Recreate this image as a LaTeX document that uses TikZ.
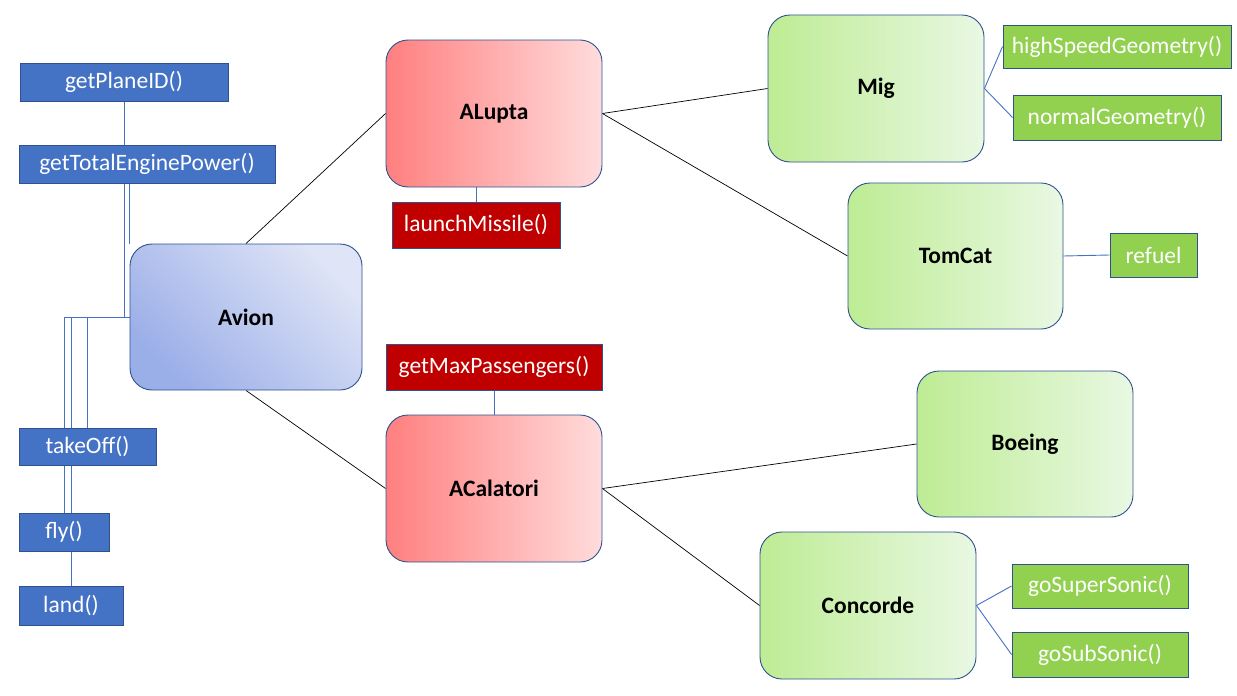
\documentclass[tikz,border=0pt]{standalone}
\usepackage{fontspec}
\setmainfont{Carlito}
\usetikzlibrary{backgrounds}
\definecolor{bluebox}{HTML}{4472C4}
\definecolor{edge}{HTML}{2F528F}
\definecolor{redbox}{HTML}{C00000}
\definecolor{greenbox}{HTML}{92D050}
\definecolor{redA}{HTML}{FF7F7F}
\definecolor{redB}{HTML}{FFDCDC}
\definecolor{greenA}{HTML}{BEEC94}
\definecolor{greenB}{HTML}{E9F8E3}
\definecolor{blueA}{HTML}{9AAEE8}
\definecolor{blueB}{HTML}{DFE4F6}
\definecolor{linkblue}{HTML}{4472C4}
\tikzset{
  txt/.style={font=\fontsize{23.5}{28}\selectfont},
  method/.style={txt, draw=edge, line width=0.9pt, text=white, inner sep=0pt},
  mblue/.style={method, fill=bluebox},
  mred/.style={method, fill=redbox},
  mgreen/.style={method, fill=greenbox},
  cls/.style={font=\fontsize{23.5}{28}\selectfont\bfseries, draw=edge, line width=0.9pt, rounded corners=22pt, minimum width=216pt, minimum height=147pt, inner sep=0pt},
  redcls/.style={cls, left color=redA, right color=redB},
  greencls/.style={cls, left color=greenA, right color=greenB},
  link/.style={line width=0.7pt, black},
  mlink/.style={line width=0.9pt, linkblue},
}
\begin{document}
\begin{tikzpicture}[x=1pt,y=-1pt]
\useasboundingbox (0,0) rectangle (1237,696);
% left methods
\node[mblue, minimum width=208pt, minimum height=38pt] (planeid) at (124,82) {getPlaneID()};
\node[mblue, minimum width=256pt, minimum height=38pt] (tep) at (147,164) {getTotalEnginePower()};
\node[mblue, minimum width=137pt, minimum height=37pt] (takeoff) at (87.5,446.5) {takeOff()};
\node[mblue, minimum width=90pt, minimum height=38pt] (fly) at (64,532) {fly()};
\node[mblue, minimum width=104pt, minimum height=39pt] (land) at (71,605.5) {land()};
% Avion
\node[cls, minimum width=232pt, minimum height=146pt, top color=blueB, bottom color=blueA, shading angle=-45] (avion) at (246,317) {Avion};
% red classes
\node[redcls] (alupta) at (494,113.5) {ALupta};
\node[mred, minimum width=168pt, minimum height=46pt] (launch) at (476,225) {launchMissile()};
\node[mred, minimum width=216pt, minimum height=46pt] (maxp) at (494,367) {getMaxPassengers()};
\node[redcls] (acalatori) at (494,488.5) {ACalatori};
% green classes
\node[greencls] (mig) at (876,88.5) {Mig};
\node[mgreen, minimum width=228pt, minimum height=43pt] (hsg) at (1117,46.5) {highSpeedGeometry()};
\node[mgreen, minimum width=208pt, minimum height=45pt] (ng) at (1117,117.5) {normalGeometry()};
\node[greencls, minimum width=215pt, minimum height=146pt] (tomcat) at (955.5,256) {TomCat};
\node[mgreen, minimum width=87pt, minimum height=44pt] (refuel) at (1153.5,255) {refuel};
\node[greencls, minimum height=146pt] (boeing) at (1025,444) {Boeing};
\node[greencls] (concorde) at (868,605.5) {Concorde};
\node[mgreen, minimum width=176pt, minimum height=44pt] (gss) at (1100,586) {goSuperSonic()};
\node[mgreen, minimum width=176pt, minimum height=45pt] (gsub) at (1100,654.5) {goSubSonic()};
\begin{scope}[on background layer]
  % hierarchy
  \draw[link] (avion.north) -- (alupta.west);
  \draw[link] (avion.south) -- (acalatori.west);
  \draw[link] (alupta.east) -- (mig.west);
  \draw[link] (alupta.east) -- (tomcat.west);
  \draw[link] (acalatori.east) -- (boeing.west);
  \draw[link] (acalatori.east) -- (concorde.west);
  % method links
  \draw[mlink] (planeid.south) -- (planeid.south |- tep.north);
  \draw[mlink] (avion.west) -| (tep.south -| planeid.south);
  \draw[mlink] (tep.south -| avion.west) -- (avion.north west);
  \draw[mlink] (avion.west) -| (takeoff.north);
  \draw[mlink] (avion.west) -| (fly.north);
  \draw[mlink] (avion.west) -| (land.north);
  \draw[mlink] (launch.north) -- (launch.north |- alupta.south);
  \draw[mlink] (maxp.south) -- (acalatori.north);
  \draw[mlink] (mig.east) -- (hsg.west);
  \draw[mlink] (mig.east) -- (ng.west);
  \draw[mlink] (tomcat.east) -- (refuel.west);
  \draw[mlink] (concorde.east) -- (gss.west);
  \draw[mlink] (concorde.east) -- (gsub.west);
\end{scope}
\end{tikzpicture}
\end{document}
